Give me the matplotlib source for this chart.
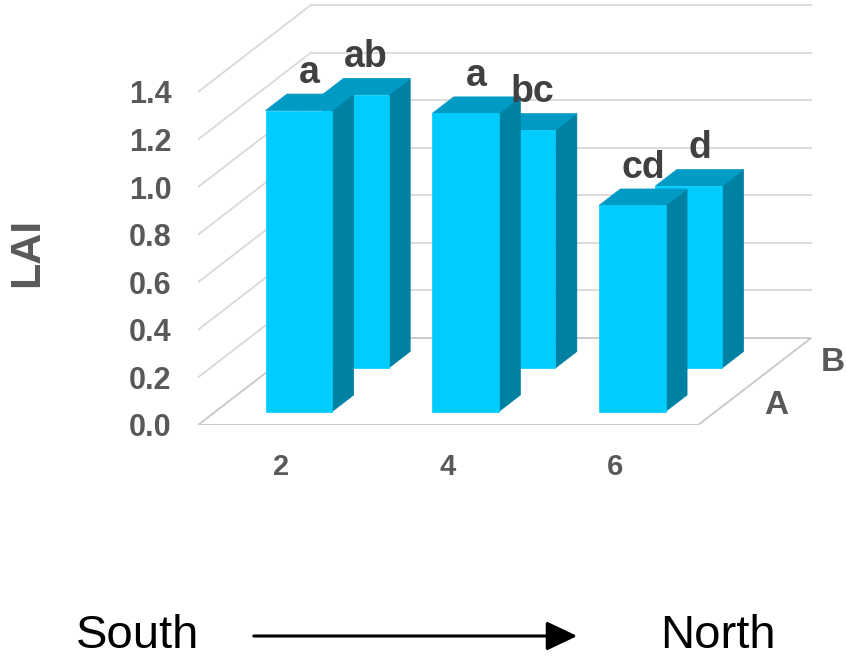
import matplotlib.pyplot as plt
from matplotlib.patches import Polygon, FancyArrowPatch

plt.rcParams['font.family'] = ['Liberation Sans', 'DejaVu Sans']

# LAI by site, two rows of bars (A in front, B behind)
sites = ['2', '4', '6']
series = ['A', 'B']
lai_a = [1.265, 1.253, 0.866]
lai_b = [1.148, 1.00, 0.765]
letters_a = ['a', 'a', 'cd']
letters_b = ['ab', 'bc', 'd']
yticks = [0.0, 0.2, 0.4, 0.6, 0.8, 1.0, 1.2, 1.4]

W, H = 846, 664
PX_CAT = 166.7      # pixels per category on the front plane
PX_VAL = 237.9      # pixels per LAI unit
DX = 113 / PX_CAT   # full depth shift, category units
DY = 87 / PX_VAL    # full depth shift, value units
BAR_W = 0.40
BAR_D = 0.19
ROW_C = [0.25, 0.75]

FRONT = '#00CCFF'
SIDE = '#0081A2'
TOP = '#009BC4'
GRID = '#D9D9D9'
TXT = '#595959'


def proj(x, v, d):
    return (x + d * DX, v + d * DY)


fig = plt.figure(figsize=(W / 100, H / 100), dpi=100)
ax = fig.add_axes([198 / W, (H - 425) / H, 648 / W, 425 / H])
ax.set_xlim(-0.5, -0.5 + 648 / PX_CAT)
ax.set_ylim(0, 425 / PX_VAL)
for s in ax.spines.values():
    s.set_visible(False)

x_lo, x_hi = -0.5, len(sites) - 0.5

# walls: back wall lines and left wall diagonals
for v in yticks[1:]:
    ax.plot(*zip(proj(x_lo, v, 1), proj(x_hi, v, 1)), color=GRID, lw=1.3, zorder=1)
    ax.plot(*zip(proj(x_lo, v, 0), proj(x_lo, v, 1)), color=GRID, lw=1.3, zorder=1)

# floor
floor = [proj(x_lo, 0, 0), proj(x_hi, 0, 0), proj(x_hi, 0, 1), proj(x_lo, 0, 1)]
ax.add_patch(Polygon(floor, closed=True, fill=False, edgecolor='#C8C8C8', lw=1.3, zorder=1))


def draw_bar(i, v, d_c, z):
    x0, x1 = i - BAR_W / 2, i + BAR_W / 2
    d0, d1 = d_c - BAR_D / 2, d_c + BAR_D / 2
    front = [proj(x0, 0, d0), proj(x1, 0, d0), proj(x1, v, d0), proj(x0, v, d0)]
    side = [proj(x1, 0, d0), proj(x1, 0, d1), proj(x1, v, d1), proj(x1, v, d0)]
    top = [proj(x0, v, d0), proj(x1, v, d0), proj(x1, v, d1), proj(x0, v, d1)]
    for pts, c in ((side, SIDE), (top, TOP), (front, FRONT)):
        ax.add_patch(Polygon(pts, closed=True, facecolor=c, edgecolor=c, lw=0.5, zorder=z))


# back row first, then the front row on top
for row, vals, letters, z in ((1, lai_b, letters_b, 2), (0, lai_a, letters_a, 3)):
    for i, v in enumerate(vals):
        draw_bar(i, v, ROW_C[row], z)
        ax.annotate(letters[i], xy=proj(i, v, ROW_C[row]), xytext=(0, 14),
                    textcoords='offset points', ha='center', va='baseline',
                    fontsize=27, fontweight='bold', color='#404040', zorder=5)

# series labels along the depth axis
for row, name in enumerate(series):
    ax.annotate(name, xy=proj(x_hi, 0, ROW_C[row]), xytext=(36, -8),
                textcoords='offset points', ha='center', va='baseline',
                fontsize=24, fontweight='bold', color=TXT, annotation_clip=False)

ax.set_yticks(yticks)
ax.set_yticklabels([f'{t:.1f}' for t in yticks])
ax.set_xticks(range(len(sites)))
ax.set_xticklabels(sites)
ax.tick_params(axis='y', length=0, pad=19, labelsize=22, labelcolor=TXT)
ax.tick_params(axis='x', length=0, pad=20, labelsize=21, labelcolor=TXT)
for lbl in ax.get_xticklabels() + ax.get_yticklabels():
    lbl.set_fontweight('bold')

fig.text(27 / W, 1 - 252 / H, 'LAI', fontsize=31, fontweight='bold', color=TXT,
         rotation=90, ha='center', va='center')

# south -> north direction
fig.text(138 / W, 1 - 636 / H, 'South', fontsize=34, ha='center', va='center')
fig.text(718 / W, 1 - 636 / H, 'North', fontsize=34, ha='center', va='center')
arrow = FancyArrowPatch((251 / W, 1 - 636 / H), (580 / W, 1 - 636 / H),
                        transform=fig.transFigure, arrowstyle='-|>,head_length=1.9,head_width=0.9',
                        mutation_scale=10, lw=2.2, color='black')
fig.patches.append(arrow)

fig.savefig('out.png', dpi=100)
